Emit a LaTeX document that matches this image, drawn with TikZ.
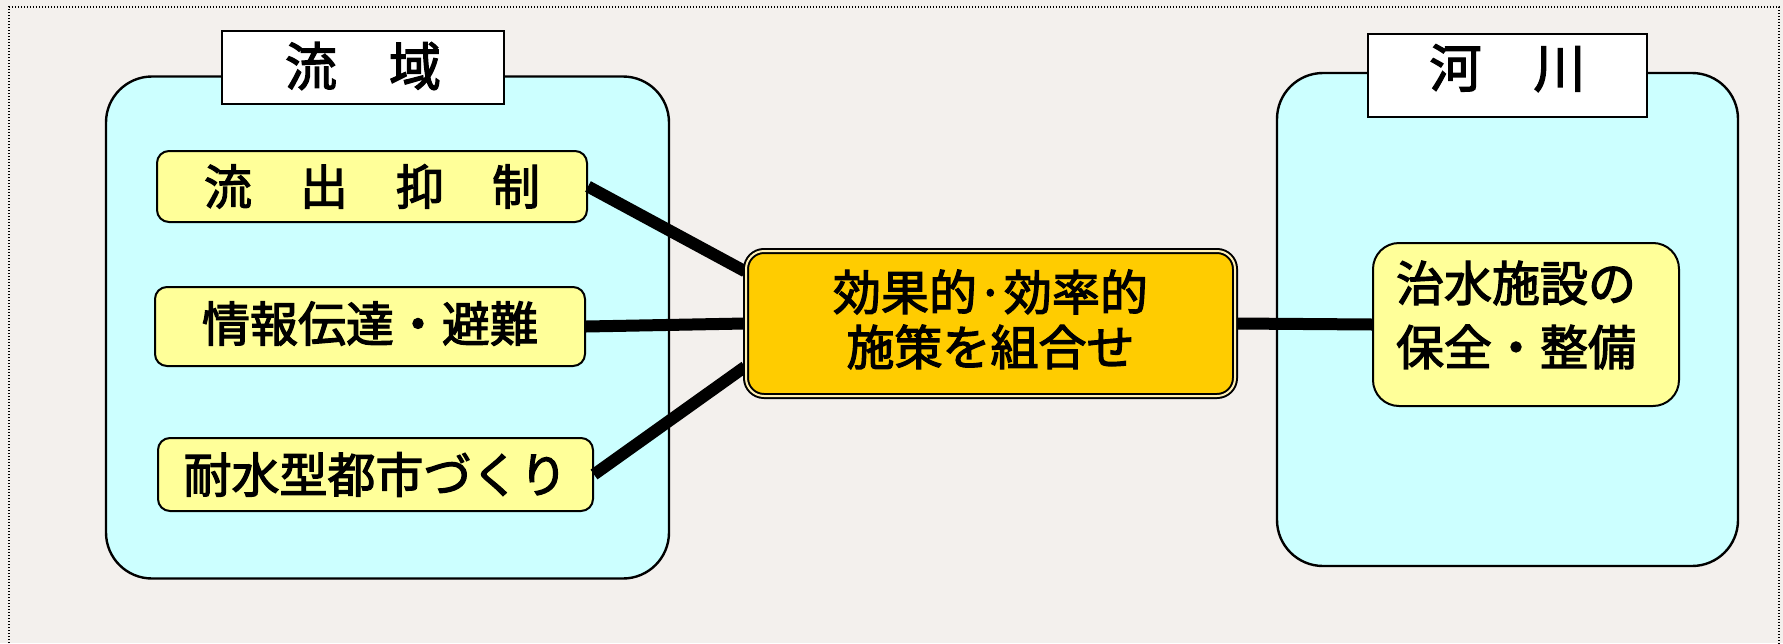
\documentclass[tikz,border=0pt]{standalone}
\usepackage{fontspec}
\newfontfamily\jp[FakeBold=2.5]{Noto Sans CJK JP}
\definecolor{paper}{RGB}{243,240,237}
\definecolor{cyanbox}{RGB}{204,255,255}
\definecolor{yellowbox}{RGB}{255,255,153}
\definecolor{goldbox}{RGB}{255,204,0}
\definecolor{dblcol}{RGB}{255,240,180}
\begin{document}
\begin{tikzpicture}[x=0.5pt,y=-0.5pt,
  bigbox/.style={draw, line width=1.2pt, fill=cyanbox, rounded corners=23pt, inner sep=0pt},
  titlebox/.style={draw, line width=1.1pt, fill=white, inner sep=0pt,
    font=\jp\fontsize{26}{30}\selectfont, text height=22.9pt, text depth=3.1pt},
  itembox/.style={draw, line width=1pt, fill=yellowbox, rounded corners=6pt, inner sep=0pt,
    font=\jp\fontsize{24}{28}\selectfont, text height=21.1pt, text depth=2.9pt},
  centerbox/.style={draw, line width=1pt, double=dblcol, double distance=1pt, fill=goldbox,
    rounded corners=9pt, inner sep=0pt, align=center,
    font=\jp\fontsize{24}{27.5}\selectfont, text height=48.6pt, text depth=6.9pt},
  link/.style={line width=6pt}]
\useasboundingbox (0,0) rectangle (1783,643);
\fill[paper] (0,0) rectangle (1783,643);
\draw[line width=0.6pt, dash pattern=on 0.6pt off 0.9pt] (9,643) -- (9,7) -- (1779,7) -- (1779,643);

% big boxes
\node[bigbox, minimum width=281.5pt, minimum height=251pt] (L) at (387.5,327.5) {};
\node[bigbox, minimum width=230.5pt, minimum height=246.5pt] (R) at (1507.5,319.5) {};

% titles
\node[titlebox, minimum width=141pt, minimum height=36.5pt, text depth=4.6pt] (tL) at (363,67.5) {流　域};
\node[titlebox, minimum width=139.5pt, minimum height=41.5pt, text depth=11.1pt] (tR) at (1507.5,75.5) {河　川};

% left items
\node[itembox, minimum width=215pt, minimum height=35.5pt] (a1) at (372,186.5) {流　出　抑　制};
\node[itembox, minimum width=215pt, minimum height=39.5pt, text depth=5.9pt] (a2) at (370,326.5) {情報伝達・避難};
\node[itembox, minimum width=217.5pt, minimum height=36.5pt] (a3) at (375.5,474.5) {耐水型都市づくり};

% right item
\node[itembox, rounded corners=13pt, minimum width=153pt, minimum height=81.5pt,
  text width=130pt, inner xsep=11.5pt, align=left,
  font=\jp\fontsize{24}{32}\selectfont, text depth=44.4pt] (ry) at (1526,324.5) {治水施設の\\保全・整備};

% center box (invisible copy first, to put the connectors under the box)
\path (990.5,323.5) node[centerbox, draw=none, fill=none, double=none, minimum width=244.5pt, minimum height=72.5pt, text opacity=0] (c0) {効果的·効率的\\施策を組合せ};

% connectors
\draw[link] (a1.east) -- (c0.168);
\draw[link] (a2.east) -- (c0.west);
\draw[link] (a3.east) -- (c0.190);
\draw[link] (c0.east) -- (ry.west);

% center box
\node[centerbox, minimum width=244.5pt, minimum height=72.5pt] (c) at (c0.center) {効果的·効率的\\施策を組合せ};
\end{tikzpicture}
\end{document}
